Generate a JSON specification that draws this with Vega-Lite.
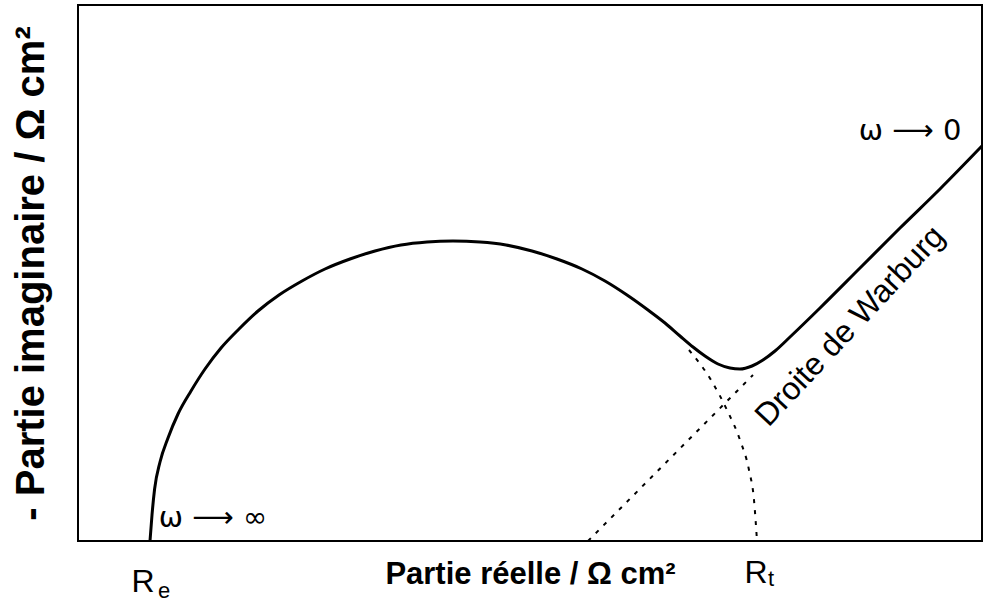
{
  "$schema": "https://vega.github.io/schema/vega-lite/v6.json",
  "width": 904,
  "height": 536,
  "autosize": {"type": "none"},
  "padding": {"left": 78, "top": 5, "right": 4, "bottom": 75},
  "background": "white",
  "config": {
    "view": {"stroke": "black", "strokeWidth": 2},
    "font": "Liberation Sans",
    "axis": {"domain": false, "grid": false, "ticks": false, "labels": false}
  },
  "layer": [
    {
      "data": {"values": [
        {"x":150,"y":0},{"x":152,"y":26},{"x":154.6,"y":52},{"x":160,"y":79},{"x":168,"y":103},{"x":178,"y":127},{"x":191,"y":150},{"x":205,"y":172},{"x":221,"y":193},{"x":239,"y":212},{"x":258,"y":230},{"x":279,"y":246},{"x":302,"y":260},{"x":325,"y":272},{"x":350,"y":282},{"x":375,"y":290},{"x":401,"y":296},{"x":427,"y":299},{"x":453,"y":300},{"x":480,"y":299},{"x":506,"y":296},{"x":532,"y":290},{"x":557,"y":282},{"x":582,"y":272},{"x":605,"y":260},{"x":627,"y":246},{"x":648,"y":231},{"x":665,"y":218},{"x":680,"y":205},{"x":693,"y":194},{"x":705,"y":185},{"x":718,"y":177},{"x":730,"y":173},{"x":740,"y":172},{"x":752,"y":175},{"x":763,"y":181},{"x":775,"y":190},{"x":790,"y":204},{"x":820,"y":233},{"x":860,"y":273},{"x":900,"y":313},{"x":940,"y":352},{"x":982,"y":395}
      ]},
      "mark": {"type": "line", "color": "black", "strokeWidth": 3, "interpolate": "monotone"},
      "encoding": {
        "x": {"field": "x", "type": "quantitative", "scale": {"domain": [78, 982], "nice": false, "zero": false}, "axis": {"title": "Partie réelle / Ω cm²", "titleFontSize": 31, "titleFontWeight": "bold", "titlePadding": 18, "titleColor": "black"}},
        "y": {"field": "y", "type": "quantitative", "scale": {"domain": [0, 536], "nice": false, "zero": false}, "axis": {"title": "- Partie imaginaire / Ω cm²", "titleFontSize": 40, "titleFontWeight": "bold", "titlePadding": 27, "titleColor": "black"}}
      }
    },
    {
      "data": {"values": [
        {"x":689,"y":191},{"x":711,"y":161},{"x":727,"y":131},{"x":740,"y":101},{"x":749,"y":71},{"x":754,"y":41},{"x":757,"y":0}
      ]},
      "mark": {"type": "line", "color": "black", "strokeWidth": 2, "strokeDash": [4, 7], "interpolate": "monotone"},
      "encoding": {
        "x": {"field": "x", "type": "quantitative"},
        "y": {"field": "y", "type": "quantitative"}
      }
    },
    {
      "data": {"values": [{"x":588,"y":0},{"x":753,"y":166}]},
      "mark": {"type": "line", "color": "black", "strokeWidth": 2, "strokeDash": [4, 7]},
      "encoding": {
        "x": {"field": "x", "type": "quantitative"},
        "y": {"field": "y", "type": "quantitative"}
      }
    },
    {
      "data": {"values": [
        {"x":213,"y":23,"label":"ω ⟶ ∞"},
        {"x":910,"y":410,"label":"ω ⟶ 0"}
      ]},
      "mark": {"type": "text", "color": "black", "align": "center", "baseline": "middle", "font": "DejaVu Sans", "fontSize": 29},
      "encoding": {
        "x": {"field": "x", "type": "quantitative"},
        "y": {"field": "y", "type": "quantitative"},
        "text": {"field": "label"}
      }
    },
    {
      "data": {"values": [
        {"x":850,"y":215,"label":"Droite de Warburg"}
      ]},
      "mark": {"type": "text", "color": "black", "align": "center", "baseline": "middle", "fontSize": 32, "angle": -47},
      "encoding": {
        "x": {"field": "x", "type": "quantitative"},
        "y": {"field": "y", "type": "quantitative"},
        "text": {"field": "label"}
      }
    },
    {
      "data": {"values": [
        {"x":143,"y":-41,"label":"R"},
        {"x":756,"y":-32,"label":"R"}
      ]},
      "mark": {"type": "text", "color": "black", "align": "center", "baseline": "middle", "fontSize": 32},
      "encoding": {
        "x": {"field": "x", "type": "quantitative"},
        "y": {"field": "y", "type": "quantitative"},
        "text": {"field": "label"}
      }
    },
    {
      "data": {"values": [
        {"x":164,"y":-50,"label":"e"},
        {"x":771,"y":-38,"label":"t"}
      ]},
      "mark": {"type": "text", "color": "black", "align": "center", "baseline": "middle", "fontSize": 22},
      "encoding": {
        "x": {"field": "x", "type": "quantitative"},
        "y": {"field": "y", "type": "quantitative"},
        "text": {"field": "label"}
      }
    }
  ]
}
